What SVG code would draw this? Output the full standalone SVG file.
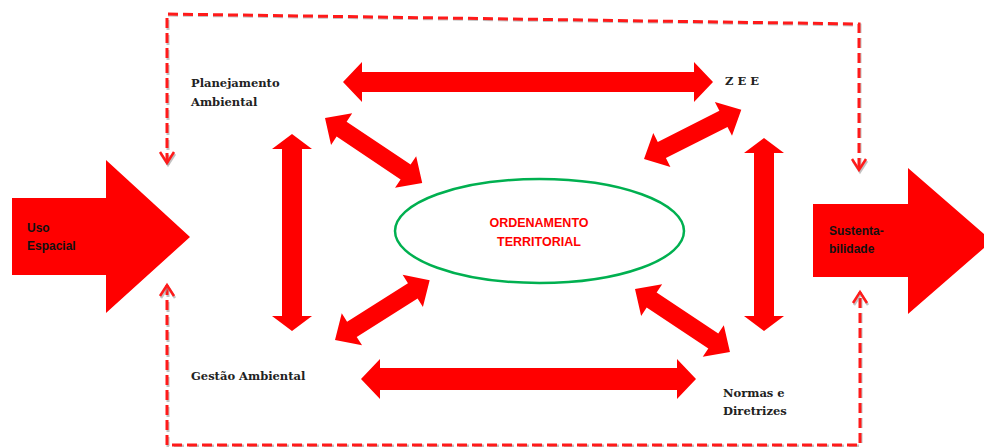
<svg xmlns="http://www.w3.org/2000/svg" width="984" height="447" viewBox="0 0 984 447">
<style>
.dbl{fill:#ff0000}
.big{fill:#ff0000}
.dash{fill:none;stroke:#ff1a1a;stroke-width:3;stroke-dasharray:10 5}
.dashsh{fill:none;stroke:#9a9a9a;stroke-width:3;stroke-dasharray:10 5;opacity:0.6}
.chev{fill:none;stroke:#ff1a1a;stroke-width:2.5}
.chevsh{fill:none;stroke:#9a9a9a;stroke-width:2.5;opacity:0.6}
.lbl{font-family:"DejaVu Serif","Liberation Serif",serif;font-weight:bold;font-size:11.5px;fill:#222}
.big-lbl{font-family:"Liberation Sans",Arial,sans-serif;font-weight:bold;font-size:12px;fill:#111}
.ctr{font-family:"Liberation Sans",Arial,sans-serif;font-weight:bold;font-size:12.5px;fill:#ff0000;text-anchor:middle}
</style>

<g id="connectors">
  <g id="dashed-top">
    <path class="dashsh" d="M168,165 L168,15 L860,25 L860,172"/>
    <path class="dash" d="M167,163 L167,14 L859,24 L859,170"/>
    <path class="chevsh" d="M161,154 L168,165 L175,154"/>
    <path class="chev" d="M160,152 L167,163 L174,152"/>
    <path class="chevsh" d="M853,161 L860,172 L867,161"/>
    <path class="chev" d="M852,159 L859,170 L866,159"/>
  </g>
  <g id="dashed-bottom">
    <path class="dashsh" d="M168,287 L168,446 L861,446 L861,294"/>
    <path class="dash" d="M167,285 L167,445 L860,445 L860,292"/>
    <path class="chevsh" d="M161,298 L168,287 L175,298"/>
    <path class="chev" d="M160,296 L167,285 L174,296"/>
    <path class="chevsh" d="M854,305 L861,294 L868,305"/>
    <path class="chev" d="M853,303 L860,292 L867,303"/>
  </g>
  <path class="dbl" transform="translate(343,82)" d="M0,0 L19,-20 L19,-10 L351,-10 L351,-20 L370,0 L351,20 L351,10 L19,10 L19,20 Z"/>
  <path class="dbl" transform="translate(361,379)" d="M0,0 L19,-20 L19,-11 L316,-11 L316,-20 L335,0 L316,20 L316,11 L19,11 L19,20 Z"/>
  <path class="dbl" transform="translate(292,134) rotate(90)" d="M0,0 L15,-20 L15,-10 L182,-10 L182,-20 L197,0 L182,20 L182,10 L15,10 L15,20 Z"/>
  <path class="dbl" transform="translate(764,138) rotate(90)" d="M0,0 L15,-20 L15,-10 L178,-10 L178,-20 L193,0 L178,20 L178,10 L15,10 L15,20 Z"/>
  <path class="dbl" transform="translate(325,118) rotate(33.8)" d="M0,0 L20,-19 L20,-9 L97,-9 L97,-19 L117,0 L97,19 L97,9 L20,9 L20,19 Z"/>
  <path class="dbl" transform="translate(644,159) rotate(-26.8)" d="M0,0 L20,-19 L20,-9 L89,-9 L89,-19 L109,0 L89,19 L89,9 L20,9 L20,19 Z"/>
  <path class="dbl" transform="translate(335,340) rotate(-32.3)" d="M0,0 L20,-19 L20,-9 L92,-9 L92,-19 L112,0 L92,19 L92,9 L20,9 L20,19 Z"/>
  <path class="dbl" transform="translate(635,289) rotate(33.6)" d="M0,0 L20,-19 L20,-9 L94,-9 L94,-19 L114,0 L94,19 L94,9 L20,9 L20,19 Z"/>
</g>

<g id="uso-espacial">
  <path class="big" d="M12,198 L106,198 L106,160 L190,237 L106,313 L106,275 L12,275 Z"/>
  <text class="big-lbl" x="27" y="232">Uso</text>
  <text class="big-lbl" x="27" y="250">Espacial</text>
</g>

<g id="sustentabilidade">
  <path class="big" d="M813,204 L908,204 L908,168 L992,241 L908,314 L908,277 L813,277 Z"/>
  <text class="big-lbl" x="829" y="235">Sustenta-</text>
  <text class="big-lbl" x="829" y="253">bilidade</text>
</g>

<g id="ordenamento">
  <ellipse cx="539.5" cy="231" rx="144.5" ry="52" fill="none" stroke="#00b050" stroke-width="2.5"/>
  <text class="ctr" x="539" y="227">ORDENAMENTO</text>
  <text class="ctr" x="539" y="246">TERRITORIAL</text>
</g>

<g id="planejamento">
  <text class="lbl" x="191" y="87">Planejamento</text>
  <text class="lbl" x="191" y="106">Ambiental</text>
</g>

<g id="zee">
  <text class="lbl" x="725" y="85">Z E E</text>
</g>

<g id="gestao">
  <text class="lbl" x="191" y="380">Gestão Ambiental</text>
</g>

<g id="normas">
  <text class="lbl" x="723" y="397">Normas e</text>
  <text class="lbl" x="723" y="415">Diretrizes</text>
</g>
</svg>
